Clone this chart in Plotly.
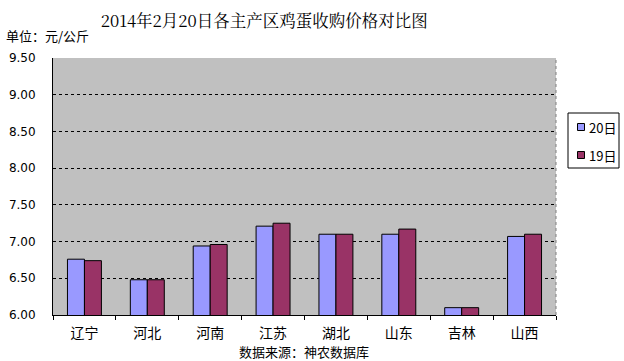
import plotly.graph_objects as go

categories = ["辽宁", "河北", "河南", "江苏", "湖北", "山东", "吉林", "山西"]
price_20 = [6.76, 6.48, 6.94, 7.21, 7.10, 7.10, 6.10, 7.07]
price_19 = [6.74, 6.48, 6.96, 7.25, 7.10, 7.17, 6.10, 7.10]
y_ticks = [6.00, 6.50, 7.00, 7.50, 8.00, 8.50, 9.00, 9.50]
series_names = ["20日", "19日"]
series_colors = ["#9999FF", "#993366"]

font_cjk = "Noto Sans CJK SC, sans-serif"

# plot-area geometry in pixels (for placing annotations)
L, R, T, B = 53, 556, 58, 315
W, H = R - L, B - T


def px(x):
    return (x - L) / W


def py(y):
    return (B - y) / H


fig = go.Figure()
for name, vals, col in zip(series_names, [price_20, price_19], series_colors):
    fig.add_trace(go.Bar(x=categories, y=vals, name=name,
                         marker=dict(color=col, line=dict(color="#000000", width=1))))

fig.update_layout(
    width=624, height=361,
    margin=dict(l=L, r=624 - R, t=T, b=361 - B, autoexpand=False),
    paper_bgcolor="white", plot_bgcolor="#C0C0C0",
    barmode="group", bargap=0.46, bargroupgap=0.0,
    font=dict(family=font_cjk, color="#000000", size=12),
    title=dict(text="2014年2月20日各主产区鸡蛋收购价格对比图", x=0.4235, xanchor="center",
               y=1 - 21 / 361, yanchor="middle",
               font=dict(family="Noto Serif CJK SC, Noto Sans CJK SC, serif", size=16.5)),
    showlegend=False,
)

fig.update_yaxes(range=[6.0, 9.5], tickvals=y_ticks, tickformat=".2f",
                 showgrid=True, gridcolor="#000000", griddash="3px,3px", gridwidth=1,
                 showline=True, linecolor="#000000", linewidth=1,
                 ticks="", ticklabelstandoff=14,
                 tickfont=dict(size=12, family="DejaVu Sans"), zeroline=False)
fig.update_xaxes(showline=True, linecolor="#000000", linewidth=1,
                 ticks="outside", tickson="boundaries", ticklen=4, tickcolor="#000000",
                 ticklabelstandoff=5, tickfont=dict(size=14), showgrid=False)

# right border of plot area (dotted)
fig.add_shape(type="line", xref="paper", yref="paper", x0=1, x1=1, y0=0, y1=1,
              line=dict(color="#808080", width=1, dash="dot"))

# legend box
fig.add_shape(type="rect", xref="paper", yref="paper",
              x0=px(568), x1=px(619), y0=py(168), y1=py(113),
              line=dict(color="#000000", width=1), fillcolor="white")
for i, (name, col) in enumerate(zip(series_names, series_colors)):
    cy = 127 + 28 * i
    fig.add_shape(type="rect", xref="paper", yref="paper",
                  x0=px(577.5), x1=px(584.5), y0=py(cy + 3.5), y1=py(cy - 3.5),
                  line=dict(color="#000000", width=1), fillcolor=col)
    fig.add_annotation(text=name, xref="paper", yref="paper",
                       x=px(587), y=py(cy), xanchor="left", yanchor="middle",
                       showarrow=False, font=dict(size=13))

fig.add_annotation(text="单位：元/公斤", xref="paper", yref="paper",
                   x=px(4), y=py(35), xanchor="left", yanchor="middle",
                   showarrow=False, font=dict(size=13))
fig.add_annotation(text="数据来源：神农数据库", xref="paper", yref="paper",
                   x=px(304), y=py(351), xanchor="center", yanchor="middle",
                   showarrow=False, font=dict(size=13))

fig.write_html("out.html", config={"displayModeBar": False},
               post_script="document.body.style.margin='0';")
